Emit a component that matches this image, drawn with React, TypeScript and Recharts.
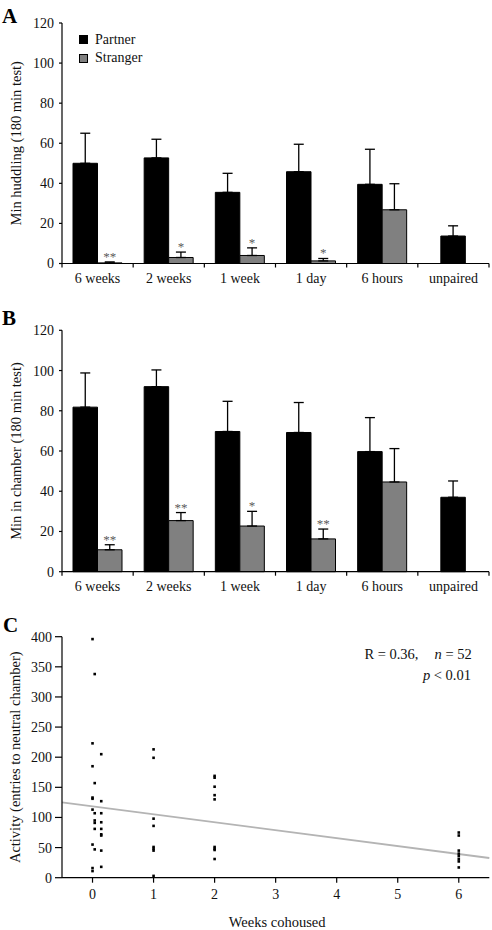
import {
  Bar,
  BarChart,
  ErrorBar,
  LabelList,
  Legend,
  ReferenceLine,
  Scatter,
  ScatterChart,
  XAxis,
  YAxis,
} from "recharts";

const FONT = "'Liberation Serif', 'Times New Roman', serif";
const W = 492;

// ---- panels A and B: bar charts ----
const categories = ["6 weeks", "2 weeks", "1 week", "1 day", "6 hours", "unpaired"];
const soloCategory = "unpaired";
const barTicks = [0, 20, 40, 60, 80, 100, 120];

const huddlePartner = [50, 52.7, 35.5, 45.8, 39.5, 13.7];
const huddlePartnerErr = [15, 9.3, 9.5, 13.7, 17.5, 5.1];
const huddleStranger = [0.3, 3, 4, 1.3, 26.8, null];
const huddleStrangerErr = [0.5, 2.7, 3.8, 1.2, 13, null];
const huddleStars = ["**", "*", "*", "*", "", ""];

const chamberPartner = [81.8, 92, 69.7, 69.2, 59.7, 37];
const chamberPartnerErr = [17, 8.3, 15, 14.9, 16.9, 8.1];
const chamberStranger = [10.9, 25.4, 22.7, 16.3, 44.6, null];
const chamberStrangerErr = [2.5, 4, 7.3, 4.9, 16.6, null];
const chamberStars = ["**", "**", "*", "**", "", ""];

// ---- panel C: scatter ----
const weeksCohoused = [0, 0.036, 0.143, 1, 2, 6];
const activityByGroup = [
  [396, 223, 185, 133, 131, 113, 55, 16, 11],
  [338, 157, 107, 95, 91, 81, 47],
  [205, 127, 107, 92, 81, 72, 70, 45, 18],
  [213, 199, 98, 86, 51, 48, 45, 3],
  [169, 166, 151, 137, 130, 51, 48, 46, 31],
  [75, 70, 45, 40, 36, 31, 27, 17],
];
const activityTicks = [0, 50, 100, 150, 200, 250, 300, 350, 400];
const weekTicks = [0, 1, 2, 3, 4, 5, 6];
const fitWeeks = [-0.5, 6.5];
const fitActivity = [125, 32.7];

type Row = {
  cat: string;
  partner: number | null;
  partnerErr: number[] | null;
  stranger: number | null;
  strangerErr: number[] | null;
  solo: number | null;
  soloErr: number[] | null;
  star: string;
};

function buildRows(
  partner: number[],
  partnerErr: number[],
  stranger: (number | null)[],
  strangerErr: (number | null)[],
  stars: string[],
): Row[] {
  return categories.map((cat, i) => {
    const isSolo = cat === soloCategory;
    return {
      cat,
      partner: isSolo ? null : partner[i],
      partnerErr: isSolo ? null : [0, partnerErr[i]],
      stranger: stranger[i],
      strangerErr: strangerErr[i] == null ? null : [0, strangerErr[i] as number],
      solo: isSolo ? partner[i] : null,
      soloErr: isSolo ? [0, partnerErr[i]] : null,
      star: stars[i],
    };
  });
}

const huddleRows = buildRows(huddlePartner, huddlePartnerErr, huddleStranger, huddleStrangerErr, huddleStars);
const chamberRows = buildRows(chamberPartner, chamberPartnerErr, chamberStranger, chamberStrangerErr, chamberStars);

const tickStyle = { fontFamily: FONT, fontSize: 14, fill: "#111" };
const axisLine = { stroke: "#000", strokeWidth: 1.2 };

const Y_AXIS_W = 62;
const RIGHT = 3;
const halfBand = (W - Y_AXIS_W - RIGHT) / categories.length / 2;

function CategoryTick(props: any) {
  const { x, y, payload, index } = props;
  return (
    <g>
      {index === 0 && (
        <line x1={x - halfBand} x2={x - halfBand} y1={y} y2={y + 4} stroke="#000" strokeWidth={1.2} />
      )}
      <line x1={x + halfBand} x2={x + halfBand} y1={y} y2={y + 4} stroke="#000" strokeWidth={1.2} />
      <text x={x} y={y + 19.5} textAnchor="middle" {...tickStyle}>
        {payload.value}
      </text>
    </g>
  );
}

const yTitle = (text: string) => (props: any) => {
  const vb = props.viewBox ?? {};
  const cx = (vb.x ?? 0) + 20.5;
  const cy = vb.y + vb.height / 2;
  return (
    <text
      x={cx}
      y={cy}
      transform={`rotate(-90 ${cx} ${cy})`}
      textAnchor="middle"
      fontFamily={FONT}
      fontSize={14.5}
      fill="#111"
    >
      {text}
    </text>
  );
};

function LegendBox({ payload }: any) {
  const items = (payload ?? []).filter((e: any) => e.dataKey !== "solo" && e.type !== "none");
  return (
    <div style={{ fontFamily: FONT, fontSize: 14, color: "#111" }}>
      {items.map((e: any) => (
        <div key={e.value} style={{ display: "flex", alignItems: "center", height: 18.6 }}>
          <span
            style={{
              width: 9,
              height: 9,
              boxSizing: "border-box",
              border: "1px solid #000",
              background: e.color,
              marginRight: 7,
            }}
          />
          <span>{e.value}</span>
        </div>
      ))}
    </div>
  );
}

interface BarPanelProps {
  rows: Row[];
  title: string;
  height: number;
  plotTop: number;
  plotBottom: number;
  legend?: boolean;
}

function BarPanel({ rows, title, height, plotTop, plotBottom, legend }: BarPanelProps) {
  const X_AXIS_H = 30;
  const starLabel = (props: any) => {
    const vb = props.viewBox ?? props;
    const row = rows[props.index];
    if (!row || !row.star || row.stranger == null || !row.strangerErr) return null;
    const errTop = vb.y - (vb.height * row.strangerErr[1]) / row.stranger;
    return (
      <text
        x={vb.x + vb.width / 2}
        y={errTop - 1}
        textAnchor="middle"
        fontFamily={FONT}
        fontSize={13}
        fill="#5a5a5a"
      >
        {row.star}
      </text>
    );
  };

  return (
    <BarChart
      width={W}
      height={height}
      data={rows}
      margin={{ top: plotTop, right: RIGHT, left: 0, bottom: height - plotBottom - X_AXIS_H }}
      barGap={0}
      barSize={24.5}
    >
      <XAxis
        dataKey="cat"
        height={X_AXIS_H}
        interval={0}
        tickLine={false}
        tickSize={0}
        tickMargin={0}
        axisLine={axisLine}
        tick={<CategoryTick />}
      />
      <XAxis xAxisId="solo" dataKey="cat" hide height={0} />
      <XAxis xAxisId="top" orientation="top" height={0} tick={false} tickLine={false} axisLine={axisLine} />
      <YAxis
        width={Y_AXIS_W}
        domain={[0, 120]}
        ticks={barTicks}
        interval={0}
        tickSize={3}
        tickMargin={5}
        tick={tickStyle}
        tickLine={{ stroke: "#000", strokeWidth: 1.2 }}
        axisLine={axisLine}
        label={{ content: yTitle(title) }}
      />
      <YAxis yAxisId="right" orientation="right" width={0} tick={false} tickLine={false} axisLine={axisLine} />
      <Bar dataKey="partner" name="Partner" fill="#000" stroke="#000" isAnimationActive={false}>
        <ErrorBar dataKey="partnerErr" direction="y" width={5} stroke="#000" strokeWidth={1.3} />
      </Bar>
      <Bar dataKey="stranger" name="Stranger" fill="#808080" stroke="#000" strokeWidth={1} isAnimationActive={false}>
        <ErrorBar dataKey="strangerErr" direction="y" width={5} stroke="#000" strokeWidth={1.3} />
        <LabelList dataKey="star" content={starLabel} />
      </Bar>
      <Bar
        dataKey="solo"
        xAxisId="solo"
        name="Unpaired"
        legendType="none"
        fill="#000"
        stroke="#000"
        isAnimationActive={false}
      >
        <ErrorBar dataKey="soloErr" direction="y" width={5} stroke="#000" strokeWidth={1.3} />
      </Bar>
      {legend && (
        <Legend
          layout="vertical"
          align="center"
          verticalAlign="middle"
          content={<LegendBox />}
          wrapperStyle={{ left: 79, top: 30.4, width: "auto", height: "auto" }}
        />
      )}
    </BarChart>
  );
}

const scatterPoints = weeksCohoused.flatMap((w, g) =>
  activityByGroup[g].map((a) => ({ weeks: w, activity: a })),
);

function Dot(props: any) {
  const { cx, cy } = props;
  if (cx == null || cy == null) return null;
  return <rect x={cx - 1.3} y={cy - 1.3} width={2.6} height={2.6} fill="#000" />;
}

function ScatterPanel() {
  const X_AXIS_H = 45;
  const height = 320;
  const plotTop = 26.7;
  const plotBottom = 267.7;
  return (
    <ScatterChart
      width={W}
      height={height}
      margin={{ top: plotTop, right: 2.7, left: 0, bottom: height - plotBottom - X_AXIS_H }}
    >
      <XAxis
        type="number"
        dataKey="weeks"
        domain={[fitWeeks[0], fitWeeks[1]]}
        ticks={weekTicks}
        interval={0}
        height={X_AXIS_H}
        tickSize={5}
        tickMargin={6}
        tick={tickStyle}
        tickLine={{ stroke: "#000", strokeWidth: 1.2 }}
        axisLine={axisLine}
        allowDataOverflow
        label={{
          content: (props: any) => {
            const vb = props.viewBox;
            return (
              <text
                x={vb.x + vb.width / 2 + 1.5}
                y={vb.y + 48.8}
                textAnchor="middle"
                fontFamily={FONT}
                fontSize={14.5}
                fill="#111"
              >
                Weeks cohoused
              </text>
            );
          },
        }}
      />
      <XAxis xAxisId="top" orientation="top" type="number" domain={[0, 1]} height={0} tick={false} tickLine={false} axisLine={axisLine} />
      <YAxis
        type="number"
        dataKey="activity"
        width={Y_AXIS_W}
        domain={[0, 400]}
        ticks={activityTicks}
        interval={0}
        tickSize={7}
        tickMargin={3}
        tick={tickStyle}
        tickLine={{ stroke: "#000", strokeWidth: 1.2 }}
        axisLine={axisLine}
        label={{ content: yTitle("Activity (entries to neutral chamber)") }}
      />
      <YAxis yAxisId="right" orientation="right" type="number" domain={[0, 1]} width={0} tick={false} tickLine={false} axisLine={axisLine} />
      <ReferenceLine
        segment={[
          { x: fitWeeks[0], y: fitActivity[0] },
          { x: fitWeeks[1], y: fitActivity[1] },
        ]}
        stroke="#b4b4b4"
        strokeWidth={1.8}
        ifOverflow="visible"
      />
      <Scatter data={scatterPoints} fill="#000" shape={<Dot />} isAnimationActive={false} />
    </ScatterChart>
  );
}

export default function App() {
  const letter = { fontFamily: FONT, fontSize: 21, fontWeight: 700, fill: "#000" };
  return (
    <div style={{ position: "absolute", left: 0, top: 0, width: W, height: 930, background: "#fff" }}>
      <div style={{ position: "absolute", left: 0, top: 0 }}>
        <BarPanel rows={huddleRows} title="Min huddling (180 min test)" height={300} plotTop={23} plotBottom={263.5} legend />
      </div>
      <div style={{ position: "absolute", left: 0, top: 300 }}>
        <BarPanel rows={chamberRows} title="Min in chamber (180 min test)" height={310} plotTop={30.3} plotBottom={271.7} />
      </div>
      <div style={{ position: "absolute", left: 0, top: 610 }}>
        <ScatterPanel />
      </div>
      <svg
        width={W}
        height={930}
        style={{ position: "absolute", left: 0, top: 0, pointerEvents: "none" }}
      >
        <text x={2} y={23} {...letter}>A</text>
        <text x={2} y={325} {...letter}>B</text>
        <text x={3} y={631.5} {...letter}>C</text>
        <text x={471.7} y={659.3} textAnchor="end" fontFamily={FONT} fontSize={14.5} fill="#111">
          R = 0.36,
          <tspan dx={16} fontStyle="italic">n</tspan>
          {" = 52"}
        </text>
        <text x={471} y={680.3} textAnchor="end" fontFamily={FONT} fontSize={14.5} fill="#111">
          <tspan fontStyle="italic">p</tspan>
          {" < 0.01"}
        </text>
      </svg>
    </div>
  );
}
